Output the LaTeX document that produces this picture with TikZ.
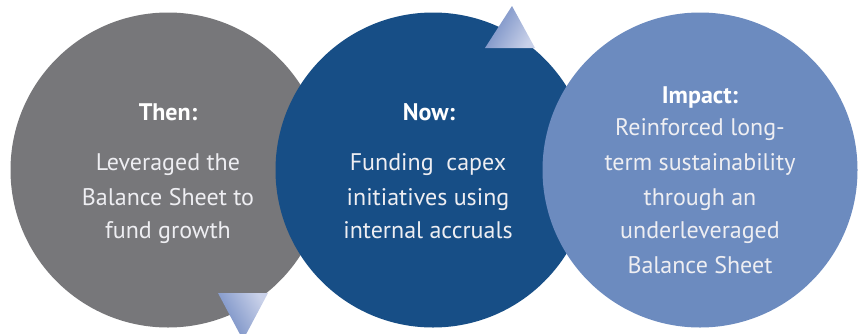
\documentclass[tikz,border=0pt]{standalone}
\usepackage{fontspec}
\setmainfont{PT Sans}
\definecolor{cgray}{HTML}{77777A}
\definecolor{cblue}{HTML}{174E86}
\definecolor{clight}{HTML}{6C8BBF}
\definecolor{tdark}{HTML}{6E88C1}
\definecolor{tlight}{HTML}{C9D1E9}
\definecolor{bodytxt}{HTML}{EEEEF2}
\tikzset{
  disc/.style={circle, minimum size=315pt, inner sep=0pt},
  ttl/.style={anchor=base, text=white, font=\fontsize{24}{34}\selectfont\bfseries},
  bodyline/.style={anchor=base, text=bodytxt, font=\fontsize{24}{34}\selectfont},
}
\begin{document}
\begin{tikzpicture}[x=1pt,y=-1pt]
\useasboundingbox (0,0) rectangle (859,333);
\clip (0,0) rectangle (859,333);
\node[disc, fill=cgray] (then) at (168,170) {};
\node[disc, fill=cblue] (now) at (433,170) {};
\shade[left color=tdark, right color=tlight, shading angle=60] (485,48) -- (512,6) -- (535,48) -- cycle;
\node[disc, fill=clight] (impact) at (700,170) {};
\shade[left color=tdark, right color=tlight, shading angle=120] (218,293) -- (268,293) -- (243,340) -- cycle;
% Then
\node[ttl] (t0) at (168,120) {Then:};
\node[bodyline] (t1) at (168,170) {Leveraged the};
\node[bodyline] (t2) at (168,205) {Balance Sheet to};
\node[bodyline] (t3) at (168,238) {fund growth};
% Now
\node[ttl] (n0) at (429,120) {Now:};
\node[bodyline] (n1) at (428,170) {Funding\ \ capex};
\node[bodyline] (n2) at (428,205) {initiatives using};
\node[bodyline] (n3) at (428,238) {internal accruals};
% Impact
\node[ttl] (i0) at (700,103) {Impact:};
\node[bodyline] (i1) at (700,135) {Reinforced long-};
\node[bodyline] (i2) at (700,170) {term sustainability};
\node[bodyline] (i3) at (700,205) {through an};
\node[bodyline] (i4) at (700,238) {underleveraged};
\node[bodyline] (i5) at (700,273) {Balance Sheet};
\end{tikzpicture}
\end{document}
